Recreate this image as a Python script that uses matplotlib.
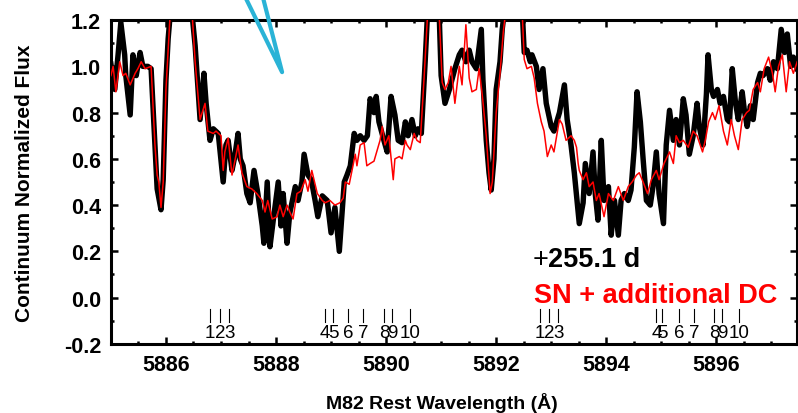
import matplotlib
matplotlib.use("Agg")
import matplotlib.pyplot as plt
from matplotlib.ticker import MultipleLocator

plt.rcParams['font.family'] = ['Liberation Sans', 'DejaVu Sans']
plt.rcParams['axes.unicode_minus'] = False

# black spectrum (+255.1 d)
black_wave = [5885.00, 5885.07, 5885.13, 5885.18, 5885.25, 5885.27, 5885.35, 5885.40, 5885.46, 5885.53,
              5885.58, 5885.67, 5885.73, 5885.80, 5885.84, 5885.91, 5885.95, 5886.00, 5886.04, 5886.09,
              5886.30, 5886.46, 5886.53, 5886.62, 5886.69, 5886.73, 5886.80, 5886.86, 5886.95, 5887.04,
              5887.09, 5887.13, 5887.20, 5887.25, 5887.31, 5887.35, 5887.40, 5887.47, 5887.53, 5887.60,
              5887.67, 5887.75, 5887.78, 5887.84, 5887.89, 5887.95, 5888.04, 5888.09, 5888.13, 5888.20,
              5888.25, 5888.35, 5888.40, 5888.47, 5888.51, 5888.58, 5888.64, 5888.71, 5888.76, 5888.84,
              5888.93, 5889.00, 5889.07, 5889.15, 5889.20, 5889.24, 5889.29, 5889.35, 5889.42, 5889.47,
              5889.53, 5889.60, 5889.66, 5889.71, 5889.78, 5889.82, 5889.87, 5889.96, 5890.02, 5890.09,
              5890.16, 5890.22, 5890.29, 5890.35, 5890.40, 5890.47, 5890.53, 5890.58, 5890.64, 5890.71,
              5890.76, 5890.86, 5890.96, 5891.00, 5891.07, 5891.15, 5891.25, 5891.33, 5891.38, 5891.45,
              5891.51, 5891.56, 5891.64, 5891.73, 5891.76, 5891.82, 5891.87, 5891.91, 5891.96, 5892.00,
              5892.07, 5892.11, 5892.16, 5892.30, 5892.47, 5892.51, 5892.56, 5892.62, 5892.65, 5892.73,
              5892.78, 5892.85, 5892.91, 5893.00, 5893.05, 5893.15, 5893.24, 5893.29, 5893.36, 5893.42,
              5893.51, 5893.58, 5893.62, 5893.69, 5893.76, 5893.80, 5893.85, 5893.91, 5893.96, 5894.04,
              5894.09, 5894.15, 5894.22, 5894.27, 5894.33, 5894.40, 5894.45, 5894.51, 5894.56, 5894.62,
              5894.67, 5894.73, 5894.80, 5894.85, 5894.91, 5894.96, 5895.04, 5895.09, 5895.15, 5895.22,
              5895.27, 5895.33, 5895.40, 5895.45, 5895.51, 5895.58, 5895.65, 5895.69, 5895.76, 5895.82,
              5895.85, 5895.91, 5895.95, 5896.02, 5896.07, 5896.13, 5896.20, 5896.24, 5896.29, 5896.35,
              5896.40, 5896.47, 5896.51, 5896.56, 5896.62, 5896.67, 5896.75, 5896.80, 5896.85, 5896.93,
              5896.98, 5897.04, 5897.11, 5897.18, 5897.24, 5897.29, 5897.35, 5897.40, 5897.47]
black_flux = [1.01, 0.90, 1.05, 1.19, 1.05, 0.96, 0.79, 1.05, 0.96, 1.06,
              1.00, 1.00, 0.99, 0.66, 0.47, 0.38, 0.51, 0.94, 1.12, 1.26,
              2.00, 1.26, 1.09, 0.77, 0.97, 0.84, 0.68, 0.73, 0.71, 0.50,
              0.66, 0.68, 0.55, 0.61, 0.71, 0.60, 0.57, 0.45, 0.41, 0.55,
              0.45, 0.31, 0.235, 0.50, 0.22, 0.335, 0.50, 0.31, 0.45, 0.235,
              0.365, 0.48, 0.42, 0.50, 0.62, 0.53, 0.51, 0.42, 0.35, 0.44,
              0.42, 0.28, 0.39, 0.20, 0.365, 0.50, 0.53, 0.57, 0.71, 0.68,
              0.70, 0.68, 0.70, 0.86, 0.80, 0.87, 0.76, 0.68, 0.63, 0.87,
              0.79, 0.68, 0.67, 0.76, 0.70, 0.77, 0.70, 0.73, 0.71, 1.02,
              1.26, 1.90, 1.26, 0.96, 0.84, 0.90, 0.99, 1.05, 1.07, 1.02,
              1.07, 1.02, 0.99, 1.16, 0.94, 0.68, 0.54, 0.465, 0.60, 0.90,
              1.02, 1.16, 1.26, 1.90, 1.26, 1.06, 1.07, 1.02, 1.05, 1.00,
              0.90, 0.99, 0.84, 0.74, 0.72, 0.80, 0.92, 0.77, 0.66, 0.54,
              0.32, 0.41, 0.58, 0.45, 0.63, 0.45, 0.335, 0.68, 0.42, 0.48,
              0.27, 0.42, 0.27, 0.42, 0.45, 0.42, 0.465, 0.65, 0.89, 0.76,
              0.60, 0.42, 0.40, 0.48, 0.63, 0.45, 0.32, 0.66, 0.81, 0.68,
              0.77, 0.66, 0.86, 0.79, 0.62, 0.70, 0.84, 0.74, 0.66, 0.88,
              1.05, 0.90, 0.87, 0.90, 0.84, 0.87, 0.77, 0.76, 0.99, 0.84,
              0.77, 0.89, 0.81, 0.74, 0.83, 0.77, 0.93, 0.97, 0.96, 0.99,
              0.94, 1.02, 0.99, 1.16, 1.06, 1.14, 1.00, 1.04, 0.99]

# red spectrum (SN + additional DC)
red_wave = [5885.00, 5885.04, 5885.09, 5885.16, 5885.22, 5885.27, 5885.35, 5885.44, 5885.49, 5885.55,
            5885.62, 5885.73, 5885.80, 5885.84, 5885.87, 5885.91, 5885.95, 5886.00, 5886.07, 5886.10,
            5886.30, 5886.47, 5886.53, 5886.62, 5886.71, 5886.76, 5886.86, 5886.91, 5887.00, 5887.04,
            5887.07, 5887.13, 5887.20, 5887.31, 5887.38, 5887.47, 5887.56, 5887.65, 5887.75, 5887.80,
            5887.85, 5887.93, 5888.02, 5888.07, 5888.13, 5888.20, 5888.25, 5888.31, 5888.38, 5888.45,
            5888.53, 5888.58, 5888.65, 5888.75, 5888.84, 5888.89, 5888.98, 5889.07, 5889.16, 5889.22,
            5889.26, 5889.33, 5889.38, 5889.44, 5889.47, 5889.53, 5889.60, 5889.65, 5889.71, 5889.78,
            5889.84, 5889.89, 5889.93, 5889.98, 5890.05, 5890.13, 5890.16, 5890.24, 5890.29, 5890.35,
            5890.38, 5890.44, 5890.51, 5890.56, 5890.62, 5890.69, 5890.76, 5890.86, 5890.96, 5891.02,
            5891.07, 5891.13, 5891.18, 5891.25, 5891.33, 5891.38, 5891.45, 5891.51, 5891.56, 5891.64,
            5891.69, 5891.75, 5891.82, 5891.89, 5891.93, 5892.00, 5892.07, 5892.13, 5892.18, 5892.30,
            5892.47, 5892.51, 5892.56, 5892.64, 5892.69, 5892.75, 5892.82, 5892.87, 5892.93, 5893.00,
            5893.05, 5893.15, 5893.20, 5893.27, 5893.36, 5893.42, 5893.46, 5893.49, 5893.51, 5893.58,
            5893.64, 5893.69, 5893.76, 5893.82, 5893.87, 5893.96, 5894.04, 5894.13, 5894.22, 5894.31,
            5894.40, 5894.47, 5894.55, 5894.60, 5894.67, 5894.75, 5894.82, 5894.91, 5894.96, 5895.05,
            5895.15, 5895.22, 5895.27, 5895.33, 5895.40, 5895.49, 5895.58, 5895.65, 5895.75, 5895.80,
            5895.86, 5895.93, 5895.98, 5896.05, 5896.13, 5896.20, 5896.27, 5896.33, 5896.40, 5896.47,
            5896.55, 5896.60, 5896.67, 5896.75, 5896.80, 5896.87, 5896.95, 5897.02, 5897.07, 5897.13,
            5897.20, 5897.27, 5897.33, 5897.40, 5897.47]
red_flux = [0.96, 1.00, 0.89, 1.02, 0.96, 0.97, 0.92, 0.97, 0.99, 1.02,
            0.99, 1.00, 0.66, 0.53, 0.50, 0.39, 0.50, 0.90, 1.20, 1.30,
            1.90, 1.25, 1.02, 0.77, 0.84, 0.72, 0.71, 0.72, 0.70, 0.55,
            0.63, 0.69, 0.53, 0.66, 0.54, 0.48, 0.47, 0.45, 0.42, 0.37,
            0.42, 0.34, 0.35, 0.40, 0.35, 0.40, 0.37, 0.34, 0.45, 0.46,
            0.51, 0.46, 0.55, 0.45, 0.42, 0.41, 0.42, 0.40, 0.41, 0.43,
            0.50, 0.49, 0.55, 0.62, 0.57, 0.66, 0.67, 0.57, 0.58, 0.59,
            0.64, 0.68, 0.74, 0.66, 0.70, 0.51, 0.60, 0.61, 0.60, 0.68,
            0.66, 0.64, 0.71, 0.68, 0.67, 0.95, 1.25, 1.70, 1.25, 0.93,
            0.90, 0.93, 1.00, 0.84, 1.00, 0.92, 1.18, 0.95, 0.89, 0.90,
            0.99, 0.87, 0.70, 0.45, 0.50, 0.80, 0.97, 1.15, 1.25, 1.90,
            1.25, 1.03, 0.99, 1.00, 0.95, 0.84, 0.76, 0.72, 0.61, 0.66,
            0.63, 0.77, 0.75, 0.68, 0.70, 0.68, 0.65, 0.58, 0.55, 0.51,
            0.54, 0.48, 0.50, 0.42, 0.45, 0.35, 0.45, 0.42, 0.48, 0.42,
            0.48, 0.50, 0.53, 0.54, 0.50, 0.45, 0.51, 0.55, 0.51, 0.58,
            0.63, 0.58, 0.70, 0.67, 0.68, 0.65, 0.72, 0.70, 0.63, 0.68,
            0.76, 0.80, 0.77, 0.83, 0.72, 0.66, 0.77, 0.70, 0.64, 0.77,
            0.80, 0.81, 0.90, 0.93, 0.89, 0.99, 1.04, 0.97, 0.89, 1.00,
            1.05, 0.89, 1.02, 0.97, 1.02]

# component markers
marker_labels = ['1', '2', '3', '4', '5', '6', '7', '8', '9', '10']
marker_d2 = [5886.80, 5886.98, 5887.15, 5888.89, 5889.04, 5889.31, 5889.58, 5889.96, 5890.11, 5890.44]
marker_d1 = [5892.80, 5892.96, 5893.13, 5894.91, 5895.02, 5895.33, 5895.60, 5895.96, 5896.11, 5896.42]

# cyan pointer lines
pointer_x = [5887.44, 5888.11, 5887.76]
pointer_y = [1.30, 0.975, 1.30]

fig = plt.figure(figsize=(7.98, 4.14), dpi=100)
ax = fig.add_axes([0.139, 0.167, 0.860, 0.782])

ax.plot(black_wave, black_flux, color='black', lw=3.9, solid_joinstyle='round', zorder=2)
ax.plot(red_wave, red_flux, color='#ff0000', lw=1.1, zorder=3)

ax.plot(pointer_x, pointer_y, color='#2ab3d6', lw=3.0, clip_on=False, zorder=5)

for wl, lab in list(zip(marker_d2, marker_labels)) + list(zip(marker_d1, marker_labels)):
    ax.plot([wl, wl], [-0.05, -0.105], color='black', lw=0.8)
    ax.text(wl, -0.152, lab, ha='center', va='center', fontsize=13.5)

ax.text(5892.67, 0.135, '+', fontsize=19.5, color='black', ha='left', va='baseline')
ax.text(5892.95, 0.135, '255.1 d', fontsize=19.5, fontweight='bold', color='black', ha='left', va='baseline')
ax.text(5892.69, -0.017, 'SN + additional DC', fontsize=19.5, fontweight='bold', color='#ff0000',
        ha='left', va='baseline')

ax.set_xlim(5885.0, 5897.47)
ax.set_ylim(-0.2, 1.2)
ax.xaxis.set_major_locator(MultipleLocator(2))
ax.xaxis.set_minor_locator(MultipleLocator(0.5))
ax.yaxis.set_major_locator(MultipleLocator(0.2))
ax.yaxis.set_minor_locator(MultipleLocator(0.1))
ax.yaxis.set_major_formatter(matplotlib.ticker.FormatStrFormatter('%.1f'))

ax.tick_params(which='both', direction='in', top=True, right=True, width=1.8)
ax.tick_params(which='major', length=5, pad=7, labelsize=15.5)
ax.tick_params(which='minor', length=2.5)
for lab in ax.get_xticklabels() + ax.get_yticklabels():
    lab.set_fontweight('bold')
for sp in ax.spines.values():
    sp.set_linewidth(2.2)

ax.set_xlabel('M82 Rest Wavelength (Å)', fontsize=14, fontweight='bold')
ax.set_ylabel('Continuum Normalized Flux', fontsize=15, fontweight='bold')
ax.xaxis.set_label_coords(0.482, -0.148)
ax.yaxis.set_label_coords(-0.112, 0.5)

fig.savefig('out.png', dpi=100)
